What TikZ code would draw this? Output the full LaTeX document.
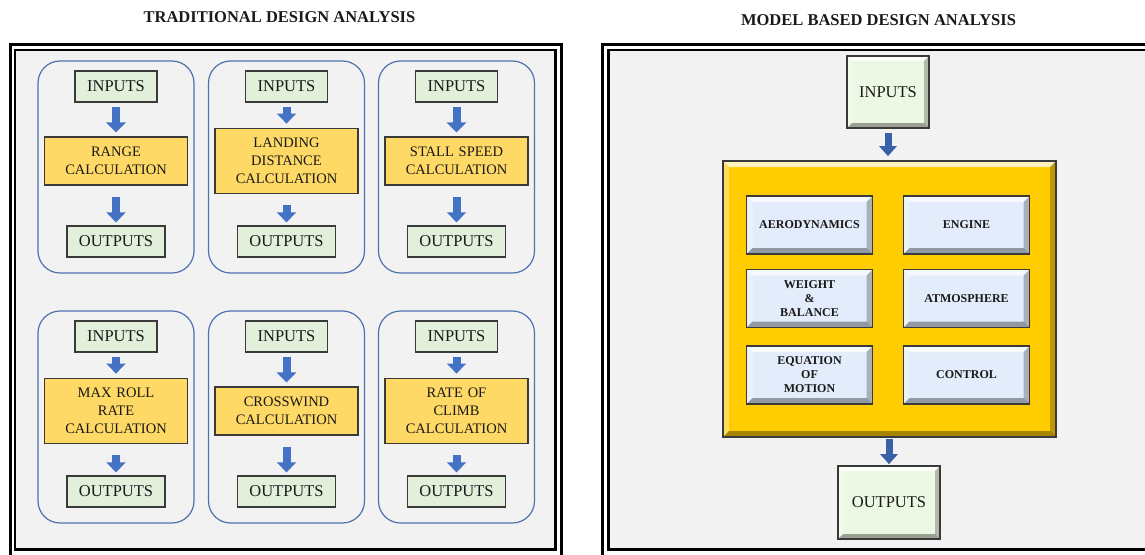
\documentclass[tikz,border=0pt]{standalone}
\usepackage{fontspec}
\setmainfont{Liberation Serif}
\usetikzlibrary{arrows.meta,positioning}

\definecolor{panelgray}{HTML}{F2F2F2}
\definecolor{panelblue}{HTML}{4F71B0}
\definecolor{iogreen}{HTML}{E2EFDA}
\definecolor{calcyellow}{HTML}{FFD966}
\definecolor{arrowblue}{HTML}{4472C4}
\definecolor{coreyellow}{HTML}{FFCC00}
\definecolor{moduleblue}{HTML}{E3ECFA}
\definecolor{modelgreen}{HTML}{EDF8E4}
\definecolor{edgegray}{HTML}{3A3A3A}

\tikzset{
  bevel/.style={path picture={
    \fill[white,opacity=.75] (path picture bounding box.north west) -- (path picture bounding box.north east)
      -- ([shift={(-#1,-#1)}]path picture bounding box.north east) -- ([shift={(#1,-#1)}]path picture bounding box.north west) -- cycle;
    \fill[white,opacity=.35] (path picture bounding box.north west) -- (path picture bounding box.south west)
      -- ([shift={(#1,#1)}]path picture bounding box.south west) -- ([shift={(#1,-#1)}]path picture bounding box.north west) -- cycle;
    \fill[black,opacity=.35] (path picture bounding box.south west) -- (path picture bounding box.south east)
      -- ([shift={(-#1,#1)}]path picture bounding box.south east) -- ([shift={(#1,#1)}]path picture bounding box.south west) -- cycle;
    \fill[black,opacity=.25] (path picture bounding box.north east) -- (path picture bounding box.south east)
      -- ([shift={(-#1,#1)}]path picture bounding box.south east) -- ([shift={(-#1,-#1)}]path picture bounding box.north east) -- cycle;
  }},
  bevel/.default=5pt
}

\begin{document}
\begin{tikzpicture}[x=1pt,y=-1pt,
  frameout/.style={draw=black,line width=3pt},
  framein/.style={draw=black,line width=2.2pt,fill=panelgray},
  titletext/.style={font=\fontsize{16.5}{19}\selectfont\bfseries,text=black!90},
  panel/.style={draw=panelblue,line width=1.2pt,rounded corners=22pt,minimum width=156pt,minimum height=212pt},
  iobox/.style={draw=edgegray,line width=1.3pt,fill=iogreen,minimum height=31pt,inner sep=0pt,font=\fontsize{16.5}{19}\selectfont,text=black!90},
  calcbox/.style={draw=edgegray,line width=1.1pt,fill=calcyellow,text width=135pt,align=center,minimum width=143pt,minimum height=48pt,inner xsep=4pt,inner ysep=10pt,font=\fontsize{14.5}{18}\selectfont,text=black!90},
  blockarrow/.style={draw=arrowblue,line width=8pt,-{Triangle[width=19pt,length=10pt]}},
  modelio/.style={draw=edgegray,line width=1.6pt,fill=modelgreen,bevel=5pt,inner sep=0pt,font=\fontsize{16.5}{19}\selectfont,text=black!90},
  corebox/.style={draw=edgegray,line width=1.6pt,fill=coreyellow,bevel=6pt,minimum width=333pt,minimum height=276pt},
  module/.style={draw=edgegray,line width=1.6pt,fill=moduleblue,bevel=6pt,minimum width=126pt,minimum height=58pt,inner sep=0pt,align=center,font=\fontsize{12}{14}\selectfont\bfseries,text=black!90},
  modelarrow/.style={draw=arrowblue!85!black,line width=7pt,-{Triangle[width=17pt,length=10pt]}}
]
\useasboundingbox (0,0) rectangle (1145,554);

%% Define macro for one analysis panel
% #1=name, #2=x centre, #3=top, #4=calculation text
\newcommand{\AnalysisPanel}[4]{
  \node[panel] (#1) at (#2,#3+106) {};
  \node[iobox,minimum width=82pt] (#1-in) at (#2,#3+25.5) {INPUTS};
  \node[calcbox] (#1-calc) at (#2,#3+100) {#4};
  \node[iobox,minimum width=98pt] (#1-out) at (#2,#3+180.5) {OUTPUTS};
  \draw[blockarrow,shorten <=4pt,shorten >=4pt] (#1-in) -- (#1-calc);
  \draw[blockarrow,shorten <=11pt,shorten >=3pt] (#1-calc) -- (#1-out);
}

%% ========== FRAMES ==========
\draw[frameout] (10,44.5) rectangle (561.5,558);
\draw[framein] (15,50) rectangle (555.5,549.5);
\draw[frameout] (602,44.5) rectangle (1160,558);
\draw[framein] (608.5,50) rectangle (1155,549.5);

%% ========== TITLES ==========
\node[titletext] (trad-title) at (279.5,17) {TRADITIONAL DESIGN ANALYSIS};
\node[titletext] (model-title) at (878.5,20) {MODEL BASED DESIGN ANALYSIS};

%% ========== TRADITIONAL PANELS ==========
\AnalysisPanel{range}{116}{61}{RANGE\\CALCULATION}
\AnalysisPanel{landing}{286.5}{61}{LANDING\\DISTANCE\\CALCULATION}
\AnalysisPanel{stall}{456.5}{61}{STALL SPEED\\CALCULATION}
\AnalysisPanel{roll}{116}{311}{MAX ROLL\\RATE\\CALCULATION}
\AnalysisPanel{wind}{286.5}{311}{CROSSWIND\\CALCULATION}
\AnalysisPanel{climb}{456.5}{311}{RATE OF\\CLIMB\\CALCULATION}

%% ========== MODEL BASED ==========
\node[modelio,minimum width=82pt,minimum height=72pt] (model-in) at (888,92) {INPUTS};
\node[corebox] (core) at (889.5,299) {};

\node[module] (aero) at (809.5,225) {AERODYNAMICS};
\node[module] (engine) at (966.5,225) {ENGINE};
\node[module] (weight) at (809.5,298.5) {WEIGHT\\\&\\BALANCE};
\node[module] (atmos) at (966.5,298.5) {ATMOSPHERE};
\node[module] (motion) at (809.5,375) {EQUATION\\OF\\MOTION};
\node[module] (control) at (966.5,375) {CONTROL};

\node[modelio,minimum width=102pt,minimum height=73pt] (model-out) at (889,502.5) {OUTPUTS};

% Connections
\draw[modelarrow,shorten <=4pt,shorten >=4pt] (model-in.south) -- (model-in.south |- core.north);
\draw[modelarrow,shorten <=1pt,shorten >=1pt] (core.south -| model-out.north) -- (model-out.north);

\end{tikzpicture}
\end{document}
